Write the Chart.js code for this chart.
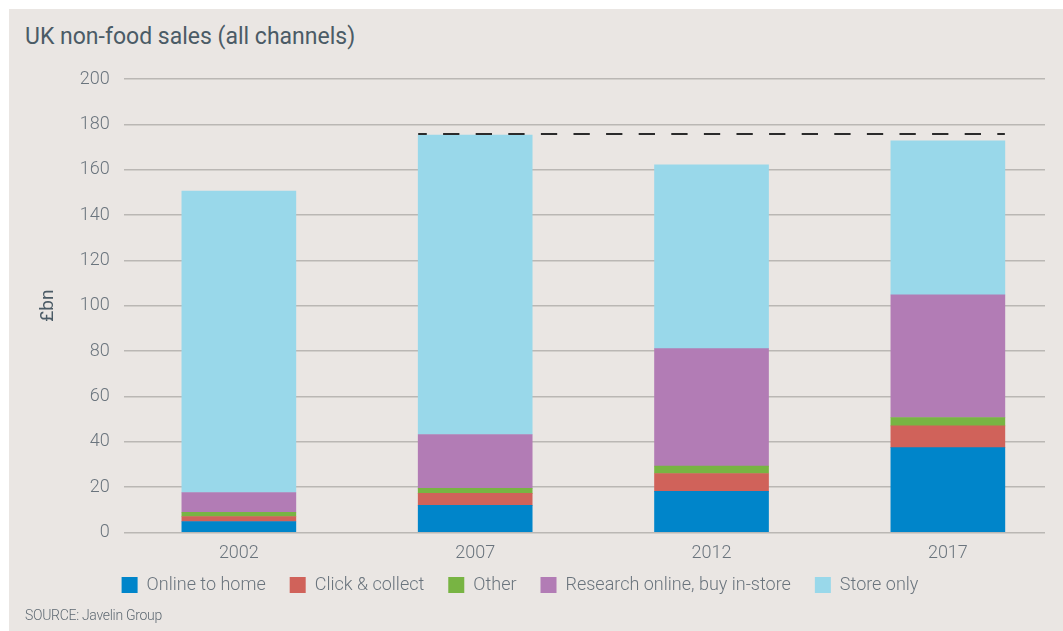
<!DOCTYPE html>
<html>
<head>
<meta charset="utf-8">
<title>UK non-food sales</title>
<script src="https://cdn.jsdelivr.net/npm/chart.js@4.4.1/dist/chart.umd.min.js"></script>
<style>
    html, body { margin: 0; padding: 0; background: #fff; }
    body { width: 1063px; height: 631px; position: relative; overflow: hidden; font-family: Roboto, "Open Sans", sans-serif; }
    .panel { position: absolute; left: 9px; top: 9px; right: 0; bottom: 0; background: #eae6e3; }
    .title { position: absolute; left: 25px; top: 23px; font-size: 23px; font-weight: 400; color: #4b5b66; }
    .source { position: absolute; left: 25px; top: 607px; font-size: 14px; font-weight: 300; color: #5f6a73; letter-spacing: -0.3px; }
    #chart { position: absolute; left: 0; top: 0; }
</style>
</head>
<body>
<div class="panel"></div>
<div class="title">UK non-food sales (all channels)</div>
<canvas id="chart" width="1063" height="631"></canvas>
<div class="source">SOURCE: Javelin Group</div>

<script>
const years = ['2002', '2007', '2012', '2017'];

const onlineToHome = [4.8, 11.9, 18.1, 37.4];
const clickCollect = [2.2, 5.3, 7.9, 9.6];
const other = [1.9, 2.2, 3.2, 3.7];
const researchOnline = [8.7, 23.8, 51.9, 54.1];
const storeOnly = [133.0, 132.1, 81.0, 67.9];

const yTicks = [0, 20, 40, 60, 80, 100, 120, 140, 160, 180, 200];

// peak line sits at the 2007 total
const peakIndex = 1;
const peakTotal = onlineToHome[peakIndex] + clickCollect[peakIndex] + other[peakIndex]
    + researchOnline[peakIndex] + storeOnly[peakIndex];

const toPoints = (values) => values.map((v, i) => ({ x: i, y: v }));

const peakLine = {
    id: 'peakLine',
    afterDatasetsDraw(chart) {
        const { ctx, scales } = chart;
        const top = chart.getDatasetMeta(chart.data.datasets.length - 1);
        const first = top.data[peakIndex];
        const last = top.data[years.length - 1];
        const y = scales.y.getPixelForValue(peakTotal) - 1;
        ctx.save();
        ctx.strokeStyle = '#2b2b2b';
        ctx.lineWidth = 2;
        ctx.setLineDash([16.3, 16.3]);
        ctx.lineDashOffset = 7.7;
        ctx.beginPath();
        ctx.moveTo(first.x - first.width / 2, y);
        ctx.lineTo(last.x + last.width / 2, y);
        ctx.stroke();
        ctx.restore();
    }
};

// pull the legend a bit closer to the axis labels
const legendNudge = {
    id: 'legendNudge',
    afterLayout(chart) {
        const lg = chart.legend;
        lg.top -= 14;
        lg.bottom -= 14;
        lg.left -= 19;
        lg.right -= 19;
    }
};

const tickFont = { family: 'Roboto', size: 18, weight: 300 };

new Chart(document.getElementById('chart'), {
    type: 'bar',
    data: {
        datasets: [
            { label: 'Online to home', data: toPoints(onlineToHome), backgroundColor: '#0085ca' },
            { label: 'Click & collect', data: toPoints(clickCollect), backgroundColor: '#d0625a' },
            { label: 'Other', data: toPoints(other), backgroundColor: '#78b443' },
            { label: 'Research online, buy in-store', data: toPoints(researchOnline), backgroundColor: '#b27cb5' },
            { label: 'Store only', data: toPoints(storeOnly), backgroundColor: '#99d8ea' },
        ],
    },
    options: {
        responsive: false,
        animation: false,
        layout: { padding: { top: 79, right: 18, bottom: 13, left: 33 } },
        datasets: { bar: { barThickness: 114 } },
        plugins: {
            legend: {
                position: 'bottom',
                labels: {
                    boxWidth: 16,
                    boxHeight: 16,
                    padding: 24,
                    color: '#6a747d',
                    font: tickFont,
                },
            },
            tooltip: { enabled: false },
        },
        scales: {
            x: {
                type: 'linear',
                stacked: true,
                offset: false,
                min: -0.487,
                max: 3.411,
                afterBuildTicks: (scale) => {
                    scale.ticks = years.map((_, i) => ({ value: i }));
                },
                ticks: {
                    callback: (v) => years[v],
                    color: '#6a747d',
                    font: tickFont,
                    padding: 2,
                    maxRotation: 0,
                },
                grid: { display: false },
                border: { display: false },
            },
            y: {
                stacked: true,
                min: 0,
                max: 200,
                afterBuildTicks: (scale) => {
                    scale.ticks = yTicks.map(v => ({ value: v }));
                },
                ticks: {
                    color: '#6a747d',
                    font: tickFont,
                    padding: 14,
                },
                grid: { color: '#bab7b4', lineWidth: 1.5, drawTicks: false },
                border: { display: false },
                title: {
                    display: true,
                    text: '£bn',
                    color: '#4b5b66',
                    font: { family: 'Roboto', size: 19, weight: 400 },
                    padding: { bottom: 6 },
                },
            },
        },
    },
    plugins: [peakLine, legendNudge],
});
</script>
</body>
</html>
